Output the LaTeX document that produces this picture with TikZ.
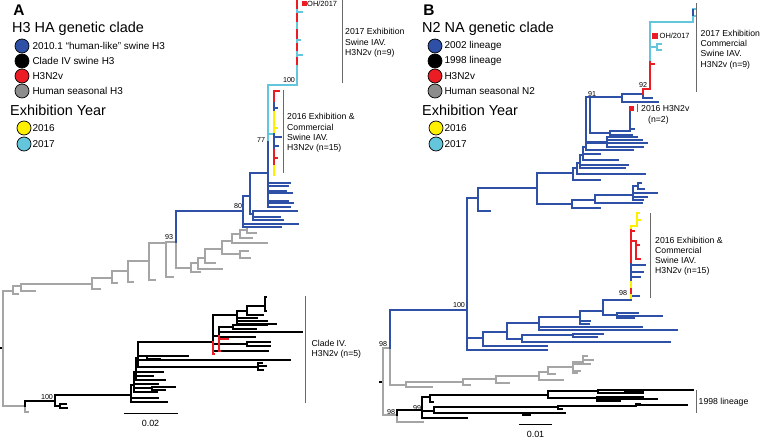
\documentclass[tikz,border=0pt]{standalone}
\usepackage{fontspec}
\setmainfont{Liberation Sans}
\usetikzlibrary{positioning}

\definecolor{swblue}{RGB}{46,80,166}
\definecolor{swred}{RGB}{236,28,36}
\definecolor{swgrey}{RGB}{165,165,165}
\definecolor{swdot}{RGB}{140,140,140}
\definecolor{swyellow}{RGB}{255,240,0}
\definecolor{swcyan}{RGB}{100,198,220}
\definecolor{barcol}{RGB}{105,105,105}

\tikzset{
  br/.style={line width=1.2bp, line cap=rect},
  blu/.style={br, swblue},
  gry/.style={br, swgrey},
  blk/.style={br, black},
  rd/.style={br, swred},
  yel/.style={br, swyellow},
  cyn/.style={br, swcyan},
  cladebar/.style={barcol, line width=0.8bp},
  boot/.style={font=\fontsize{7.2}{8}\selectfont, inner sep=0pt},
  lbl/.style={font=\fontsize{8.7}{10.3}\selectfont, align=left, inner sep=0pt, anchor=west},
  keydot/.style={circle, draw=black, line width=0.7bp, minimum size=14bp, inner sep=0pt},
  keytxt/.style={font=\fontsize{10}{12}\selectfont, inner sep=0pt},
  keyhead/.style={font=\fontsize{14.5}{17}\selectfont, inner sep=0pt, anchor=base west},
  panel/.style={font=\fontsize{15.5}{18}\bfseries\selectfont, inner sep=0pt},
}

\begin{document}
\begin{tikzpicture}[x=1bp,y=-1bp]
  \useasboundingbox (0,0) rectangle (760,438);

  % ---------------- panel A: legend
  \node[panel] (panA) at (19,10.5) {A};
  \node[keyhead] (headA) at (12,33) {H3 HA genetic clade};
  \foreach \c/\t [count=\i] in {swblue/{2010.1 “human-like” swine H3},
      black/{Clade IV swine H3}, swred/{H3N2v}, swdot/{Human seasonal H3}} {
    \node[keydot, fill=\c] (cladeA\i) at (22,31+15*\i) {};
    \node[keytxt, right=3bp of cladeA\i] (cladeAtxt\i) {\t};
  }
  \node[keyhead] (yearheadA) at (10,115.5) {Exhibition Year};
  \foreach \c/\t [count=\i] in {swyellow/2016, swcyan/2017} {
    \node[keydot, fill=\c] (yearA\i) at (24,112+16*\i) {};
    \node[keytxt, right=1bp of yearA\i] (yearAtxt\i) {\t};
  }

  % ---------------- panel A: tree
  \draw[blk] (0,348) -- (3,348);
  \foreach \px/\py/\cx/\cy in {3/348/13/291, 3/348/25/406, 25/406/28/412,
      13/291/21/286, 13/291/18/294, 21/286/92/284, 21/286/35/291,
      92/284/112/278, 92/284/100/289, 112/278/128/271, 112/278/117/283,
      128/271/149/261, 128/271/133/282, 149/261/166/243, 149/261/155/280,
      166/243/176/242, 166/243/173/277, 176/242/191/268,
      191/268/198/263, 191/268/200/272, 198/263/205/258, 198/263/222/269,
      205/258/222/249, 205/258/215/263, 222/249/232/241, 222/249/240/254,
      240/254/248/251, 240/254/250/258, 232/241/240/234, 232/241/267/243,
      240/234/247/230, 240/234/252/238, 247/230/252/227, 247/230/256/233}
    \draw[gry] (\px,\py) |- (\cx,\cy);
  \foreach \px/\py/\cx/\cy in {176/242/243/211,
      243/211/250/196, 243/211/298/224, 243/211/281/227,
      250/196/268/173, 250/196/253/214,
      253/214/297/211, 253/214/280/217, 253/214/283/220,
      268/173/290/183, 268/173/288/186, 268/173/286/191, 268/173/292/193,
      268/173/288/201, 268/173/293/203, 268/173/290/207,
      274/108/277/108, 274/137/281/137, 274/146/278/146}
    \draw[blu] (\px,\py) |- (\cx,\cy);
  \draw[swblue, line width=2.6bp] (268,140) -- (268,199);
  \draw[cyn] (268,140) |- (297,85);
  \draw[cyn] (268,134) -- (274,134);
  \draw[cyn] (297,85) -- (297,1);
  \foreach \ya/\yb in {1/8, 14/21, 30/38, 44/50, 58/64}
    \draw[rd] (297,\ya) -- (297,\yb);
  \draw[cyn] (297,12) -- (302,12) (297,40) -- (300,40) (297,55) -- (302,55);
  % 2016 group
  \draw[rd] (274,103) |- (279,91);
  \draw[blu] (274,103) -- (274,112);
  \draw[yel] (274,112) -- (274,134) (274,128) -- (277,128);
  \draw[blu] (274,134) -- (274,150);
  \draw[rd] (274,150) -- (274,166) (274,158) -- (277,158);
  \draw[yel] (274,166) -- (274,175);
  \fill[swred] (301.5,1.5) rectangle (306.5,6.5);
  % clade IV
  \foreach \px/\py/\cx/\cy in {25/406/55/401,
      55/401/131/395, 55/401/60/406, 60/406/66/404, 60/406/67/408,
      131/395/134/385, 131/395/158/398, 131/395/167/402,
      134/385/136/372, 134/385/158/384, 134/385/157/392, 134/385/152/388,
      152/388/175/387, 152/388/165/390,
      136/372/138/358, 136/372/165/380, 136/372/153/376, 136/372/163/372,
      138/358/213/342, 138/358/290/360, 138/358/147/356, 138/358/258/367,
      147/356/188/356, 147/356/160/359,
      258/367/262/363, 258/367/266/366, 258/367/263/370,
      213/342/237/315, 213/342/219/336, 213/342/247/344, 213/342/268/351,
      219/336/302/332, 219/336/255/337, 219/336/233/327,
      233/327/267/325, 233/327/256/329, 247/344/270/342, 247/344/270/346,
      237/315/247/311, 237/315/257/318, 237/315/267/321, 237/315/276/324,
      247/311/265/306, 247/311/263/315, 265/306/266/297, 265/306/266/311}
    \draw[blk] (\px,\py) |- (\cx,\cy);
  \foreach \px/\py/\cx/\cy in {213/342/214/354, 219/336/228/339, 219/336/220/351}
    \draw[rd] (\px,\py) |- (\cx,\cy);

  \node[boot] (bsA1) at (289,80) {100};
  \node[boot] (bsA2) at (261,140) {77};
  \node[boot] (bsA3) at (238,206) {80};
  \node[boot] (bsA4) at (169,237) {93};
  \node[boot] (bsA5) at (47,397) {100};

  \node[lbl, font=\fontsize{7.5}{9}\selectfont] (ohA) at (307,4.3) {OH/2017};
  \draw[cladebar] (342,0) -- (342,83);
  \node[lbl] (c2017A) at (345,43) {2017 Exhibition\\Swine IAV.\\H3N2v (n=9)};
  \draw[cladebar] (283,90) -- (283,173);
  \node[lbl] (c2016A) at (287,133) {2016 Exhibition \&\\Commercial\\Swine IAV.\\H3N2v (n=15)};
  \draw[cladebar] (305,296) -- (305,403);
  \node[lbl] (civA) at (311.5,349.3) {Clade IV.\\H3N2v (n=5)};

  \coordinate (sbA1) at (124,413);
  \coordinate (sbA2) at (178,413);
  \draw[black, line width=0.8bp] (sbA1) -- (sbA2);
  \node[boot, font=\fontsize{9}{10}\selectfont] (sbAtxt) at (150.5,423.5) {0.02};

  % ---------------- panel B: legend
  \node[panel] (panB) at (429,10.5) {B};
  \node[keyhead] (headB) at (422,33) {N2 NA genetic clade};
  \foreach \c/\t [count=\i] in {swblue/{2002 lineage}, black/{1998 lineage},
      swred/{H3N2v}, swdot/{Human seasonal N2}} {
    \node[keydot, fill=\c] (cladeB\i) at (435,31+15*\i) {};
    \node[keytxt, right=2bp of cladeB\i] (cladeBtxt\i) {\t};
  }
  \node[keyhead] (yearheadB) at (422,115.5) {Exhibition Year};
  \foreach \c/\t [count=\i] in {swyellow/2016, swcyan/2017} {
    \node[keydot, fill=\c] (yearB\i) at (436,112+16*\i) {};
    \node[keytxt, right=1bp of yearB\i] (yearBtxt\i) {\t};
  }

  % ---------------- panel B: tree
  \draw[blk] (380,382) -- (383,382);
  \foreach \px/\py/\cx/\cy in {383/382/390/348, 383/382/397/415,
      390/348/406/385, 397/415/423/422,
      406/385/463/382, 406/385/432/387, 463/382/496/379, 463/382/470/385,
      496/379/539/376, 496/379/509/383, 539/376/548/372, 539/376/563/380,
      548/372/573/367, 548/372/555/374,
      573/367/583/362, 573/367/590/364, 573/367/580/371, 573/367/577/373,
      583/362/587/356, 583/362/593/360}
    \draw[gry] (\px,\py) |- (\cx,\cy);
  \foreach \px/\py/\cx/\cy in {390/348/467/310,
      467/310/478/198, 467/310/483/338, 467/310/547/350,
      478/198/537/188, 478/198/490/211, 537/188/573/173, 537/188/572/204,
      572/204/595/200, 572/204/600/208, 595/200/633/195, 595/200/642/203,
      633/195/638/186, 633/195/657/193, 633/195/647/197, 633/195/643/200,
      638/186/641/183, 638/186/644/189,
      573/173/577/168, 573/173/600/180, 577/168/580/163, 577/168/645/174,
      580/163/583/155, 580/163/625/168, 580/163/628/165,
      583/155/586/147, 583/155/618/160, 583/155/600/154,
      586/147/590/97, 586/147/633/150, 586/147/647/143, 586/147/607/142,
      607/142/643/147, 607/142/642/140, 607/142/637/137,
      590/97/622/97, 590/97/610/133, 610/133/630/131, 610/133/632/135,
      630/131/631/110, 630/131/634/129,
      622/97/643/94, 622/97/658/102, 643/94/652/98,
      483/338/507/332, 483/338/547/346,
      507/332/539/323, 507/332/522/339,
      522/339/573/335, 522/339/670/342, 573/335/603/334, 573/335/597/337,
      539/323/580/317, 539/323/642/327, 539/323/677/330,
      580/317/603/311, 580/317/590/321, 580/317/589/324,
      603/311/631/300, 603/311/617/315,
      617/315/662/316, 617/315/638/313, 617/315/634/318,
      631/300/639/296, 631/265/645/265, 631/272/643/272, 631/277/640/277}
    \draw[blu] (\px,\py) |- (\cx,\cy);
  \draw[blu] (631,300) -- (631,262);
  \draw[yel] (631,298) -- (631,282);
  \draw[rd] (631,293) -- (631,289);
  \draw[rd] (631,262) -- (631,228);
  \foreach \px/\py/\cx/\cy in {631/250/636/241, 636/241/639/245,
      636/241/640/259, 631/235/634/231, 643/94/650/89}
    \draw[rd] (\px,\py) |- (\cx,\cy);
  \foreach \px/\py/\cx/\cy in {631/228/637/226, 637/226/639/213, 637/226/640/220}
    \draw[yel] (\px,\py) |- (\cx,\cy);
  \draw[rd] (650,89) -- (650,60) (650,64) -- (654,64);
  \foreach \px/\py/\cx/\cy in {650/60/693/22, 650/60/657/47,
      657/47/661/44, 657/47/661/50, 693/22/695/9, 693/22/696/16}
    \draw[cyn] (\px,\py) |- (\cx,\cy);
  \draw[blu] (693,10) -- (693,15);
  \fill[swred] (629,106.5) rectangle (633.5,111);
  \fill[swred] (651.5,33) rectangle (657.5,39);
  \foreach \px/\py/\cx/\cy in {397/415/422/410,
      422/410/430/397, 422/410/434/411, 422/410/467/418,
      430/397/548/395, 430/397/433/402,
      548/395/598/391, 548/395/597/398, 598/391/625/390, 598/391/643/393,
      625/390/693/390, 625/390/643/392,
      597/398/643/397, 597/398/657/399, 597/398/620/401,
      434/411/558/407, 434/411/523/413, 523/413/565/413, 523/413/530/415,
      558/407/636/406, 558/407/562/409, 636/406/687/405, 636/406/640/404}
    \draw[blk] (\px,\py) |- (\cx,\cy);

  \node[boot] (bsB1) at (592,94) {91};
  \node[boot] (bsB2) at (643,85) {92};
  \node[boot] (bsB3) at (459,305) {100};
  \node[boot] (bsB4) at (383,344) {98};
  \node[boot] (bsB5) at (623,293) {98};
  \node[boot] (bsB6) at (417,408) {99};
  \node[boot] (bsB7) at (391,412) {98};

  \node[lbl, font=\fontsize{7.5}{9}\selectfont] (ohB) at (659.5,36.3) {OH/2017};
  \draw[cladebar] (696,3) -- (696,92);
  \node[lbl] (c2017B) at (700.5,49.6) {2017 Exhibition\\Commercial\\Swine IAV.\\H3N2v (n=9)};
  \draw[cladebar] (637,104) -- (637,112);
  \node[lbl] (c2016vB) at (641,115) {2016 H3N2v\\\hspace*{7bp}(n=2)};
  \draw[cladebar] (650,213) -- (650,298);
  \node[lbl] (c2016B) at (655,256.3) {2016 Exhibition \&\\Commercial\\Swine IAV.\\H3N2v (n=15)};
  \draw[cladebar] (696,390) -- (696,413);
  \node[lbl] (l1998B) at (698.5,402) {1998 lineage};

  \coordinate (sbB1) at (519,424);
  \coordinate (sbB2) at (552,424);
  \draw[black, line width=0.8bp] (sbB1) -- (sbB2);
  \node[boot, font=\fontsize{9}{10}\selectfont] (sbBtxt) at (535.5,434) {0.01};
\end{tikzpicture}
\end{document}
